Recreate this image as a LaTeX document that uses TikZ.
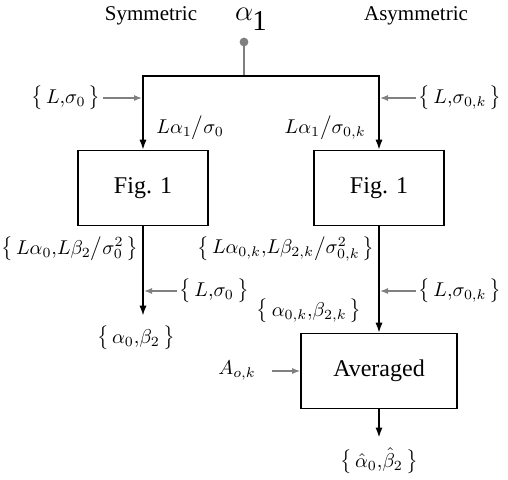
\documentclass[tikz,border=0pt]{standalone}
\usepackage{amsmath,amssymb}
\usepackage{fontspec}
\setmainfont{Liberation Serif}
\usetikzlibrary{arrows.meta,positioning}
\definecolor{FeedGray}{RGB}{128,128,128}

\begin{document}
\begin{tikzpicture}[x=0.5pt,y=-0.5pt,>=Latex,
    blockbox/.style={draw,line width=0.8pt,minimum width=65pt,minimum height=37.5pt,
      font=\fontsize{12}{14}\selectfont},
    flow/.style={->,line width=0.8pt,>={Latex[length=5pt,width=3.6pt]}},
    feed/.style={->,FeedGray,line width=0.6pt,>={Latex[length=4pt,width=3pt]}},
    lbl/.style={inner sep=1pt,font=\fontsize{10}{12}\selectfont}]
  \useasboundingbox (0,0) rectangle (508,479);
  % headings
  \node (sym)  at (151,16) {\fontsize{10.5}{12}\selectfont Symmetric};
  \node (asym) at (416,16) {\fontsize{10.5}{12}\selectfont Asymmetric};
  \node[inner sep=0pt] (alpha) at (251,19) {\fontsize{14.4}{16}\selectfont$\alpha$\kern-0.5pt\raisebox{-5pt}{1}};
  \coordinate (src) at (244,42);
  \coordinate (split) at (244,76);
  \fill[FeedGray] (src) circle (2.2pt);
  % blocks
  \node[blockbox] (figL) at (143,188) {Fig. 1};
  \node[blockbox] (figR) at (379,188) {Fig. 1};
  \node[blockbox,minimum width=78pt] (avg) at (379,371) {Averaged};
  % split of alpha_1
  \draw[FeedGray,line width=0.6pt] (src) -- (split);
  \draw[flow] (split) -| (figL.north);
  \draw[flow] (split) -| (figR.north);
  \node[lbl,anchor=east] (inL) at (103,98) {$\big\{\,L{,}\sigma_0\,\big\}$};
  \node[lbl,anchor=west] (inR) at (416,98) {$\big\{\,L{,}\sigma_{0,k}\,\big\}$};
  \coordinate (tapL) at (142,98);
  \coordinate (tapR) at (380,98);
  \draw[feed] (inL) -- (tapL);
  \draw[feed] (inR) -- (tapR);
  \node[lbl,anchor=west] (ratioL) at (154,128) {$L\alpha_1\big/\sigma_0$};
  \node[lbl,anchor=east] (ratioR) at (368,128) {$L\alpha_1\big/\sigma_{0,k}$};
  % symmetric branch
  \node[lbl,anchor=east] (midL) at (141,249) {$\big\{\,L\alpha_0{,}L\beta_2\big/\sigma_0^2\,\big\}$};
  \node[lbl,anchor=west] (inL2) at (177,291) {$\big\{\,L{,}\sigma_0\,\big\}$};
  \coordinate (tapL2) at (144,291);
  \draw[feed] (inL2) -- (tapL2);
  \node[lbl] (outL) at (136,338) {$\big\{\,\alpha_0{,}\beta_2\,\big\}$};
  \draw[flow,shorten >=4pt] (figL.south) -- (figL.south |- outL.north);
  % asymmetric branch
  \node[lbl,anchor=east] (midR) at (377,249) {$\big\{\,L\alpha_{0,k}{,}L\beta_{2,k}\big/\sigma_{0,k}^2\,\big\}$};
  \node[lbl,anchor=west] (inR2) at (416,291) {$\big\{\,L{,}\sigma_{0,k}\,\big\}$};
  \coordinate (tapR2) at (380,291);
  \draw[feed] (inR2) -- (tapR2);
  \node[lbl,anchor=east] (outR) at (364,311) {$\big\{\,\alpha_{0,k}{,}\beta_{2,k}\,\big\}$};
  \draw[flow] (figR) -- (avg);
  \node[lbl] (Aok) at (237,371) {$A_{o,k}$};
  \draw[feed,shorten <=7pt] (Aok) -- (avg.west);
  \node[lbl] (hat) at (379,461) {$\big\{\,\hat\alpha_0{,}\hat\beta_2\,\big\}$};
  \draw[flow,shorten >=4pt] (avg) -- (hat);
\end{tikzpicture}
\end{document}
